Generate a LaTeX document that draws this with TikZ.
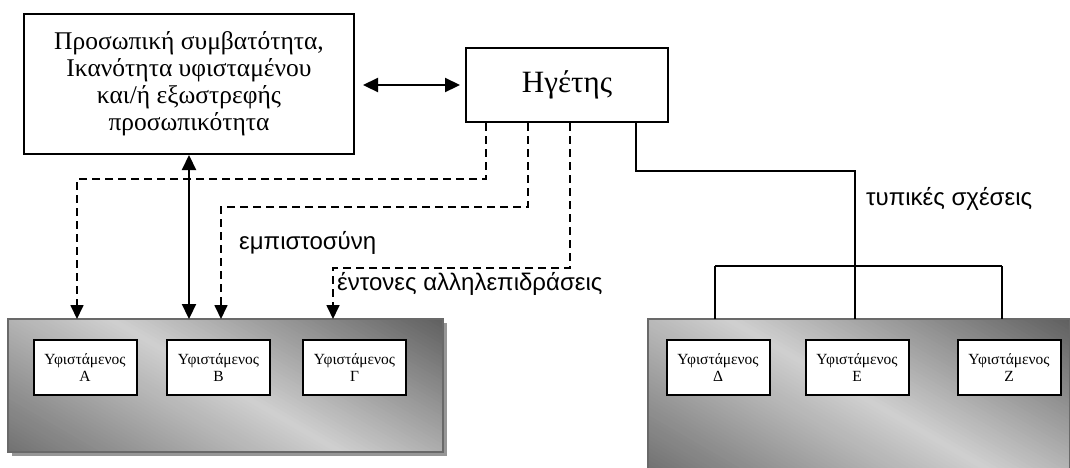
\documentclass[tikz,border=0pt]{standalone}
\usepackage{fontspec}
\setmainfont{Liberation Serif}
\setsansfont{Liberation Sans}
\usetikzlibrary{arrows.meta,calc}
\definecolor{pdark}{RGB}{92,92,92}
\definecolor{plight}{RGB}{208,208,208}
\definecolor{pdarkb}{RGB}{110,110,110}
\definecolor{pedge}{RGB}{105,105,105}
\definecolor{pshadow}{RGB}{150,150,150}

% grey diagonal gradient inside a panel node, built from thin rotated strips:
% #1 node, #2 angle, #3 half length of a strip, #4 half extent across the strips
\newcommand\panelshade[4]{%
  \begin{scope}
    \clip (#1.north west) rectangle (#1.south east);
    \begin{scope}[shift={(#1.center)}, rotate=#2]
      \foreach \i in {0,...,49} {
        \pgfmathsetmacro\ya{-#4*\i/50+0.4}
        \pgfmathsetmacro\yb{-#4*(\i+1)/50-0.4}
        \pgfmathsetmacro\p{100*(\i+0.5)/50}
        \fill[pdark!\p!plight]  (-#3,\ya) rectangle (#3,\yb);
        \fill[pdarkb!\p!plight] (-#3,-\ya) rectangle (#3,-\yb);
      }
    \end{scope}
  \end{scope}}

\begin{document}
\begin{tikzpicture}[x=1pt,y=-1pt,
  box/.style={draw=black, line width=2pt, fill=white, align=center, inner sep=0pt},
  sub/.style={box, minimum width=103pt, minimum height=55pt,
              font=\fontsize{15.5}{16.5}\selectfont},
  holder/.style={inner sep=0pt, outer sep=0pt},
  lbl/.style={font=\sffamily\fontsize{24}{27}\selectfont, inner sep=0pt, anchor=west},
  dbl/.style={line width=2.2pt,
              {Triangle[width=14pt,length=15pt]}-{Triangle[width=14pt,length=15pt]}},
  dasharrow/.style={line width=1.7pt, dash pattern=on 8pt off 5pt,
              -{Triangle[width=13pt,length=14pt]}},
  tree/.style={line width=1.6pt}
]
\useasboundingbox (0,0) rectangle (1070,467);

% group panels
\node[holder, minimum width=435pt, minimum height=133pt] (pl) at (225.5,385.5) {};
\node[holder, minimum width=422pt, minimum height=152pt] (pr) at (859,395) {};

\fill[pshadow] ($(pl.north west)+(4,4)$) rectangle ($(pl.south east)+(4,4)$);
\panelshade{pl}{-30}{240}{172}
\panelshade{pr}{-30}{240}{176}
\draw[pedge, line width=1.2pt] (pl.north west) rectangle (pl.south east);
\draw[pedge, line width=1.2pt] (pr.north west) rectangle (pr.south east);

% subordinates
\node[sub] (sa) at (85,367.5)   {Υφιστάμενος\\Α};
\node[sub] (sb) at (218.5,367.5) {Υφιστάμενος\\Β};
\node[sub] (sc) at (354.5,367.5) {Υφιστάμενος\\Γ};
\node[sub] (sd) at (718,367.5)  {Υφιστάμενος\\Δ};
\node[sub] (se) at (857,367.5)  {Υφιστάμενος\\Ε};
\node[sub] (sf) at (1009,367.5) {Υφιστάμενος\\Ζ};

% top boxes
\node[box, minimum width=330pt, minimum height=140pt,
      font=\fontsize{25.5}{27}\selectfont] (L) at (189,84)
  {Προσωπική συμβατότητα,\\Ικανότητα υφισταμένου\\και/ή εξωστρεφής\\προσωπικότητα};
\node[box, minimum width=202pt, minimum height=74pt,
      font=\fontsize{31}{34}\selectfont] (H) at (567,85) {Ηγέτης};

% two-way links
\coordinate (lr) at ([xshift=8pt]L.east);
\draw[dbl] (lr |- H.west) -- ([xshift=-5pt]H.west);
\draw[dbl] (L.south) -- (L.south |- pl.north);

% informal links from the leader
\draw[dasharrow] ([xshift=21pt]H.south west) -- ++(0,56) -| ([xshift=69pt]pl.north west);
\draw[dasharrow] ([xshift=63pt]H.south west) -- ++(0,84) -| ([xshift=213pt]pl.north west);
\draw[dasharrow] ([xshift=105pt]H.south west) -- ++(0,145) -| ([xshift=325pt]pl.north west);

\node[lbl] (t1) at (239,243) {εμπιστοσύνη};
\node[lbl] (t2) at (337,284) {έντονες αλληλεπιδράσεις};

% formal links
\coordinate (bl) at (715,266);
\coordinate (bm) at (855,266);
\coordinate (bR) at (1002,266);
\draw[tree] ([xshift=171pt]H.south west) -- ++(0,48) -| (bm);
\draw[tree] (bl) -- (bR);
\draw[tree] (bl) -- (bl |- pr.north);
\draw[tree] (bm) -- (bm |- pr.north);
\draw[tree] (bR) -- (bR |- pr.north);

\node[lbl] (t3) at (866,199) {τυπικές σχέσεις};
\end{tikzpicture}
\end{document}
